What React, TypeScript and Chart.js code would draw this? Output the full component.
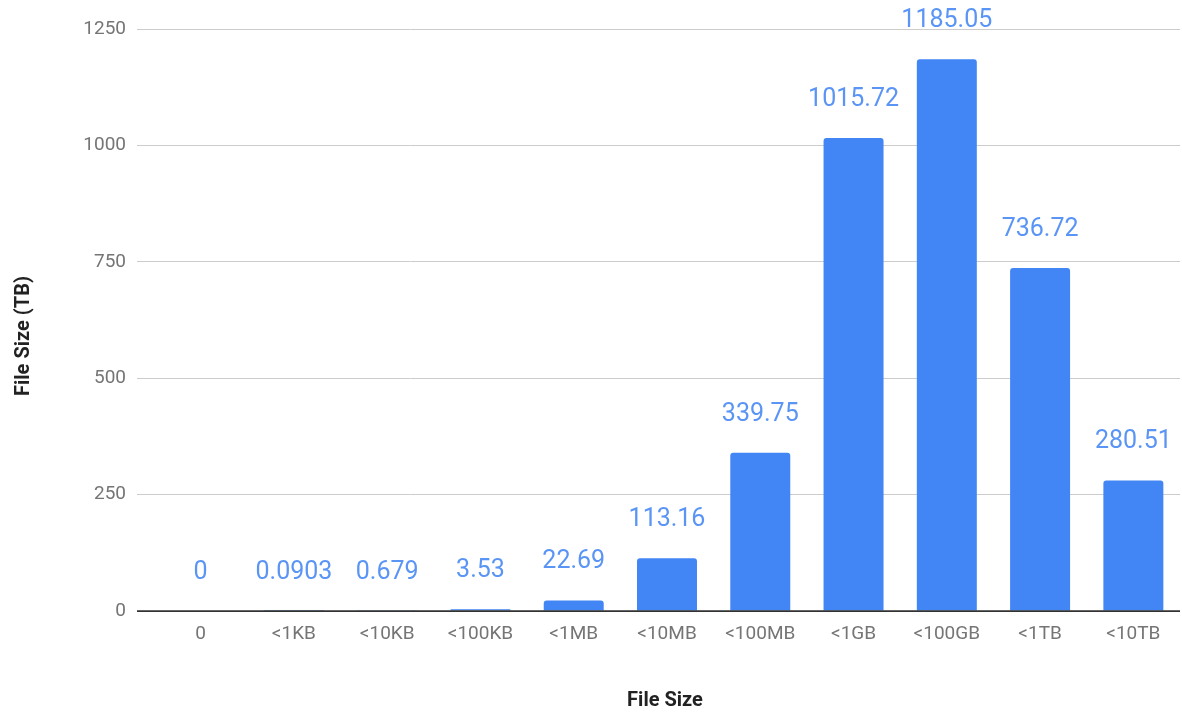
import React, { useEffect, useRef } from "react";
import { Chart, registerables } from "chart.js";

Chart.register(...registerables);

const categories = ["0", "<1KB", "<10KB", "<100KB", "<1MB", "<10MB", "<100MB", "<1GB", "<100GB", "<1TB", "<10TB"];
const sizesTB = [0, 0.0903, 0.679, 3.53, 22.69, 113.16, 339.75, 1015.72, 1185.05, 736.72, 280.51];
const valueLabels = ["0", "0.0903", "0.679", "3.53", "22.69", "113.16", "339.75", "1015.72", "1185.05", "736.72", "280.51"];
const yTicks = [0, 250, 500, 750, 1000, 1250];
const xTitle = "File Size";
const yTitle = "File Size (TB)";

const BAR = "#4285F4";
const FONT = "Roboto";

const labelsPlugin = {
  id: "valueLabels",
  afterDatasetsDraw(chart: any) {
    const ctx = chart.ctx;
    const ca = chart.chartArea;
    const y0 = chart.scales.y.getPixelForValue(0);
    ctx.save();
    // baseline drawn over the bars
    ctx.strokeStyle = "#333333";
    ctx.lineWidth = 1.6;
    ctx.beginPath();
    ctx.moveTo(ca.left - 17, y0);
    ctx.lineTo(ca.right, y0);
    ctx.stroke();
    const meta = chart.getDatasetMeta(0);
    ctx.font = `25px ${FONT}`;
    ctx.fillStyle = "#5a95f5";
    ctx.textAlign = "center";
    ctx.textBaseline = "alphabetic";
    meta.data.forEach((bar: any, i: number) => {
      ctx.fillText(valueLabels[i], bar.x, bar.y - 32);
    });
    ctx.restore();
  },
  afterDraw(chart: any) {
    const ctx = chart.ctx;
    const ca = chart.chartArea;
    ctx.save();
    ctx.font = `bold 20px ${FONT}`;
    ctx.fillStyle = "#222222";
    ctx.textAlign = "center";
    ctx.textBaseline = "middle";
    ctx.fillText(xTitle, (ca.left + ca.right) / 2 - 2, 701);
    ctx.translate(24, 336);
    ctx.rotate(-Math.PI / 2);
    ctx.fillText(yTitle, 0, 0);
    ctx.restore();
  },
};

export default function App() {
  const ref = useRef<HTMLCanvasElement | null>(null);
  useEffect(() => {
    document.body.style.margin = "0";
    const chart = new Chart(ref.current as HTMLCanvasElement, {
      type: "bar",
      data: {
        labels: categories,
        datasets: [
          {
            data: sizesTB,
            backgroundColor: BAR,
            borderRadius: { topLeft: 3, topRight: 3, bottomLeft: 0, bottomRight: 0 },
            borderSkipped: "bottom",
            barPercentage: 0.643,
            categoryPercentage: 1,
          },
        ],
      },
      options: {
        responsive: false,
        animation: false,
        maintainAspectRatio: false,
        layout: { padding: { top: 29, right: 2, left: 0, bottom: 0 } },
        plugins: { legend: { display: false }, tooltip: { enabled: false } },
        scales: {
          x: {
            grid: { display: false, drawTicks: false },
            border: { display: false },
            ticks: { color: "#757575", font: { family: FONT, size: 19 }, padding: 12, maxRotation: 0, autoSkip: false },
            afterFit: (s: any) => {
              s.height = 103;
            },
          },
          y: {
            min: 0,
            max: 1250,
            afterBuildTicks: (s: any) => {
              s.ticks = yTicks.map((v) => ({ value: v }));
            },
            grid: {
              color: (c: any) => (c.tick && c.tick.value === 0 ? "#333333" : "#cccccc"),
              lineWidth: 1,
              tickLength: 17,
              drawTicks: true,
            },
            border: { display: false },
            ticks: {
              color: "#757575",
              font: { family: FONT, size: 19 },
              padding: 11,
              callback: (v: any) => String(v),
            },
            afterFit: (s: any) => {
              s.width = 154;
            },
          },
        },
      },
      plugins: [labelsPlugin],
    });
    return () => chart.destroy();
  }, []);
  return (
    <div style={{ position: "absolute", left: 0, top: 0, width: 1182, height: 714 }}>
      <canvas ref={ref} width={1182} height={714} />
    </div>
  );
}
